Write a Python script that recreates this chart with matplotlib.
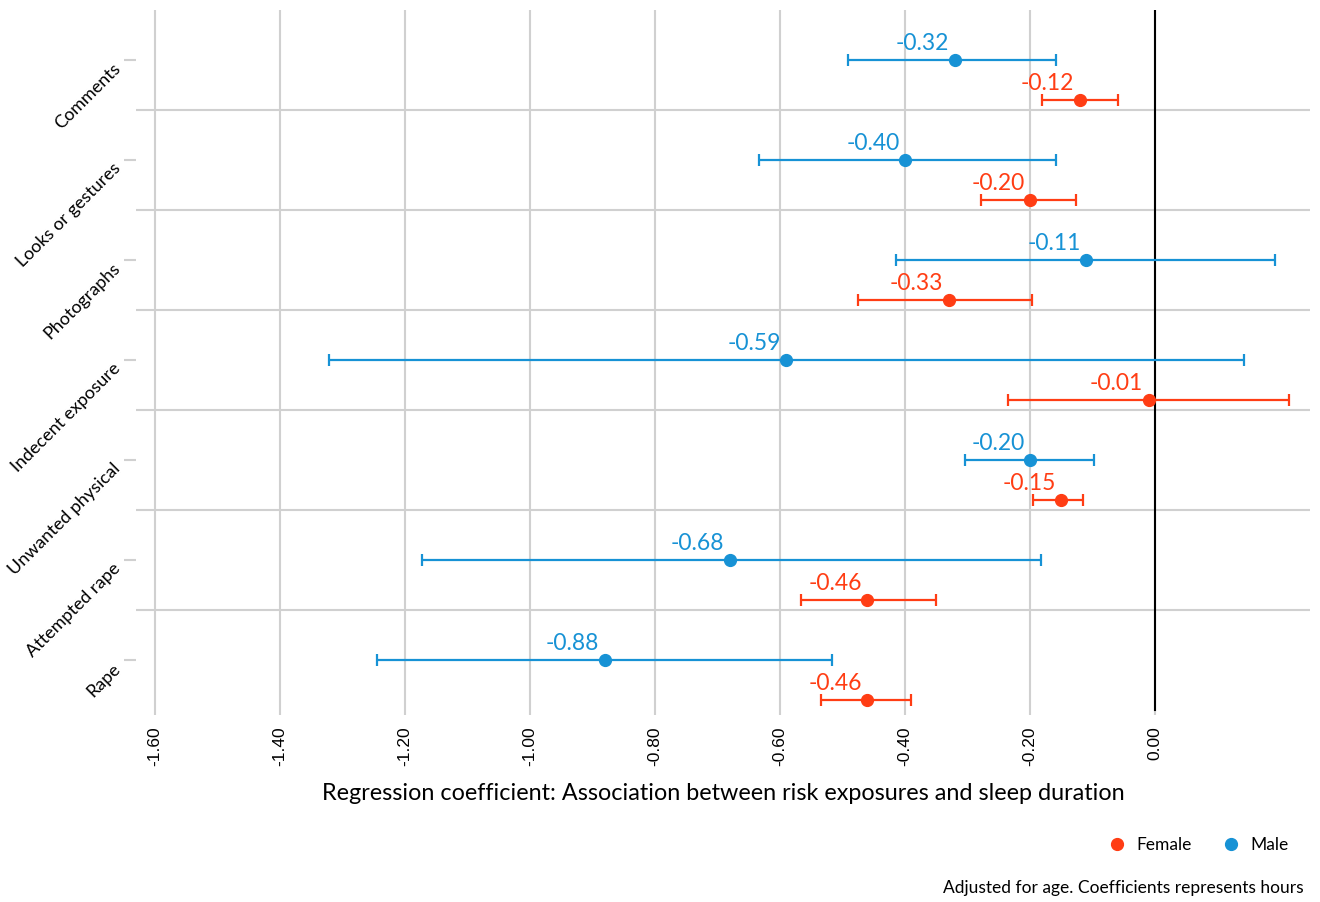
import matplotlib
matplotlib.use("Agg")
import matplotlib.pyplot as plt
from matplotlib.lines import Line2D
import numpy as np

categories = ["Comments", "Looks or gestures", "Photographs", "Indecent exposure",
              "Unwanted physical", "Attempted rape", "Rape"]

male_coef = [-0.32, -0.40, -0.11, -0.59, -0.20, -0.68, -0.88]
male_low = [-0.491, -0.634, -0.414, -1.322, -0.304, -1.173, -1.245]
male_high = [-0.158, -0.158, 0.192, 0.142, -0.098, -0.182, -0.517]

female_coef = [-0.12, -0.20, -0.33, -0.01, -0.15, -0.46, -0.46]
female_low = [-0.181, -0.278, -0.475, -0.235, -0.195, -0.566, -0.534]
female_high = [-0.059, -0.126, -0.197, 0.214, -0.115, -0.350, -0.390]

x_ticks = [-1.6, -1.4, -1.2, -1.0, -0.8, -0.6, -0.4, -0.2, 0.0]

MALE = "#1792D5"
FEMALE = "#FF3D14"
GRID = "#D0D0D0"
LABEL_FONT = ["Lato", "DejaVu Sans"]
TICK_FONT = ["Liberation Sans", "DejaVu Sans"]

fig = plt.figure(figsize=(13.2, 9.02), dpi=100)
ax = fig.add_axes([0.103, 0.207, 0.8894, 0.782])

y_male = np.arange(len(categories), dtype=float)
y_female = y_male + 0.4

ax.set_xlim(-1.6304, 0.248)
ax.set_ylim(6.55, -0.5)

# vertical grid and category separators
for xt in x_ticks:
    ax.axvline(xt, color=GRID, lw=1.5, zorder=0)
for s in y_male[:-1] + 0.5:
    ax.axhline(s, color=GRID, lw=1.5, zorder=0)
ax.plot([0, 0], [-0.5, 6.5], color="black", lw=1.5, zorder=1)

def draw(coef, low, high, ys, color):
    coef = np.array(coef)
    err = np.vstack([coef - np.array(low), np.array(high) - coef])
    ax.errorbar(coef, ys, xerr=err, fmt="o", color=color, ecolor=color,
                elinewidth=1.6, capsize=4.5, capthick=1.6, markersize=8.5, zorder=3)
    for c, y in zip(coef, ys):
        ax.annotate(f"{c:.2f}", (c, y), xytext=(-4, 12), textcoords="offset points",
                    color=color, ha="right", va="center", fontsize=16.5,
                    family=LABEL_FONT)

draw(male_coef, male_low, male_high, y_male, MALE)
draw(female_coef, female_low, female_high, y_female, FEMALE)

for sp in ax.spines.values():
    sp.set_visible(False)

ax.set_xticks(x_ticks)
ax.set_xticklabels([f"{t:.2f}" for t in x_ticks], rotation=90, fontsize=12.5,
                   family=TICK_FONT)
ax.tick_params(axis="x", length=0, pad=8)

ax.set_yticks(y_male)
ax.set_yticklabels(categories, rotation=45, ha="right", va="top",
                   rotation_mode="anchor", fontsize=13, family=LABEL_FONT)
ax.tick_params(axis="y", length=9, width=1.5, color=GRID, pad=8)

ax.set_xlabel("Regression coefficient: Association between risk exposures and sleep duration",
              fontsize=16.8, family=LABEL_FONT, labelpad=12)

handles = [Line2D([], [], marker="o", ls="none", color=FEMALE, markersize=8.5),
           Line2D([], [], marker="o", ls="none", color=MALE, markersize=8.5)]
leg = fig.legend(handles, ["Female", "Male"], loc="center right", ncol=2, frameon=False,
                 prop={"family": LABEL_FONT, "size": 12.5}, handletextpad=0.6,
                 columnspacing=1.8, handlelength=1.0)
leg.set_bbox_to_anchor((0.988, 1 - 845 / 902), transform=fig.transFigure)

fig.text(1304 / 1320, 1 - 888 / 902, "Adjusted for age. Coefficients represents hours",
         ha="right", va="center", fontsize=12.5, family=LABEL_FONT)

fig.savefig("out.png", dpi=100, facecolor="white")
